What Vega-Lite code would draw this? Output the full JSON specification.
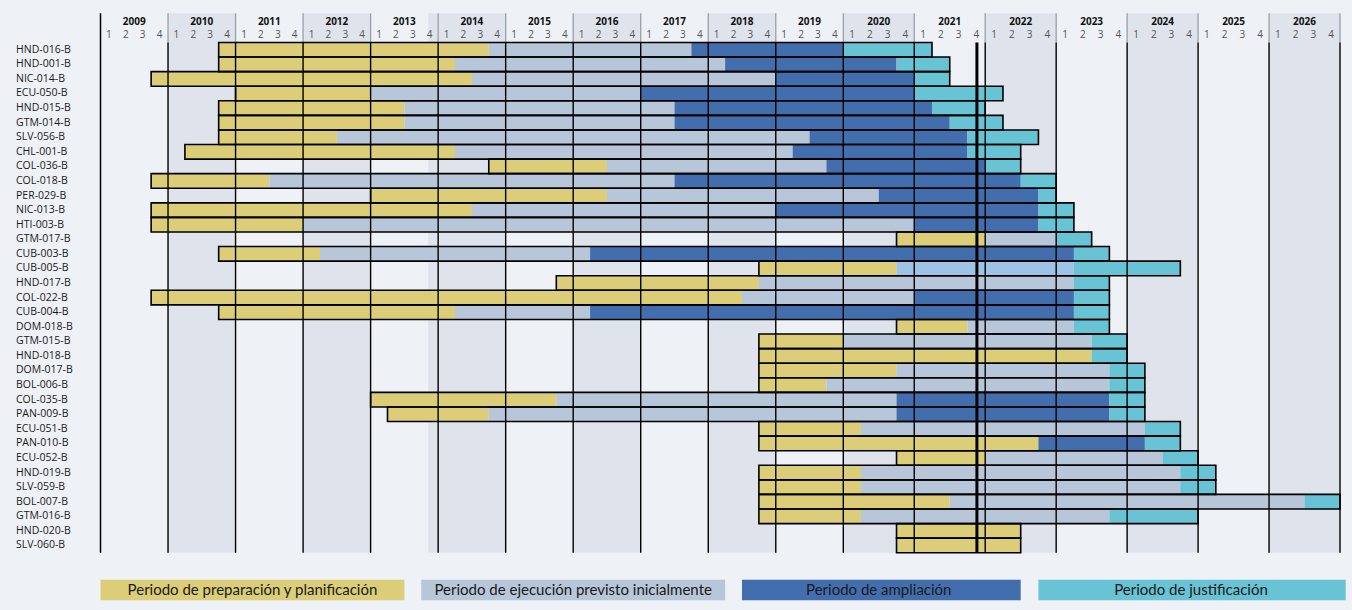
{
  "$schema": "https://vega.github.io/schema/vega-lite/v6.json",
  "width": 1239.5,
  "height": 587.7,
  "padding": {"left": 15.5, "top": 12.3, "right": 12, "bottom": 10},
  "background": "#eef1f5",
  "config": {"view": {"stroke": null}, "font": "Open Sans"},
  "datasets": {
    "seg": [
      {"p": "HND-016-B", "f": "prep", "s": 2010.75, "e": 2014.75},
      {"p": "HND-016-B", "f": "ejec", "s": 2014.75, "e": 2017.75},
      {"p": "HND-016-B", "f": "ampl", "s": 2017.75, "e": 2020},
      {"p": "HND-016-B", "f": "just", "s": 2020, "e": 2021.25},
      {"p": "HND-001-B", "f": "prep", "s": 2010.75, "e": 2014.25},
      {"p": "HND-001-B", "f": "ejec", "s": 2014.25, "e": 2018.25},
      {"p": "HND-001-B", "f": "ampl", "s": 2018.25, "e": 2020.75},
      {"p": "HND-001-B", "f": "just", "s": 2020.75, "e": 2021.5},
      {"p": "NIC-014-B", "f": "prep", "s": 2009.75, "e": 2014.5},
      {"p": "NIC-014-B", "f": "ejec", "s": 2014.5, "e": 2019},
      {"p": "NIC-014-B", "f": "ampl", "s": 2019, "e": 2021},
      {"p": "NIC-014-B", "f": "just", "s": 2021, "e": 2021.5},
      {"p": "ECU-050-B", "f": "prep", "s": 2011, "e": 2013},
      {"p": "ECU-050-B", "f": "ejec", "s": 2013, "e": 2017},
      {"p": "ECU-050-B", "f": "ampl", "s": 2017, "e": 2021},
      {"p": "ECU-050-B", "f": "just", "s": 2021, "e": 2022.25},
      {"p": "HND-015-B", "f": "prep", "s": 2010.75, "e": 2013.5},
      {"p": "HND-015-B", "f": "ejec", "s": 2013.5, "e": 2017.5},
      {"p": "HND-015-B", "f": "ampl", "s": 2017.5, "e": 2021.25},
      {"p": "HND-015-B", "f": "just", "s": 2021.25, "e": 2022},
      {"p": "GTM-014-B", "f": "prep", "s": 2010.75, "e": 2013.5},
      {"p": "GTM-014-B", "f": "ejec", "s": 2013.5, "e": 2017.5},
      {"p": "GTM-014-B", "f": "ampl", "s": 2017.5, "e": 2021.5},
      {"p": "GTM-014-B", "f": "just", "s": 2021.5, "e": 2022.25},
      {"p": "SLV-056-B", "f": "prep", "s": 2010.75, "e": 2012.5},
      {"p": "SLV-056-B", "f": "ejec", "s": 2012.5, "e": 2019.5},
      {"p": "SLV-056-B", "f": "ampl", "s": 2019.5, "e": 2021.75},
      {"p": "SLV-056-B", "f": "just", "s": 2021.75, "e": 2022.75},
      {"p": "CHL-001-B", "f": "prep", "s": 2010.25, "e": 2014.25},
      {"p": "CHL-001-B", "f": "ejec", "s": 2014.25, "e": 2019.25},
      {"p": "CHL-001-B", "f": "ampl", "s": 2019.25, "e": 2021.75},
      {"p": "CHL-001-B", "f": "just", "s": 2021.75, "e": 2022.5},
      {"p": "COL-036-B", "f": "prep", "s": 2014.75, "e": 2016.5},
      {"p": "COL-036-B", "f": "ejec", "s": 2016.5, "e": 2019.75},
      {"p": "COL-036-B", "f": "ampl", "s": 2019.75, "e": 2022},
      {"p": "COL-036-B", "f": "just", "s": 2022, "e": 2022.5},
      {"p": "COL-018-B", "f": "prep", "s": 2009.75, "e": 2011.5},
      {"p": "COL-018-B", "f": "ejec", "s": 2011.5, "e": 2017.5},
      {"p": "COL-018-B", "f": "ampl", "s": 2017.5, "e": 2022.5},
      {"p": "COL-018-B", "f": "just", "s": 2022.5, "e": 2023},
      {"p": "PER-029-B", "f": "prep", "s": 2013, "e": 2016.5},
      {"p": "PER-029-B", "f": "ejec", "s": 2016.5, "e": 2020.5},
      {"p": "PER-029-B", "f": "ampl", "s": 2020.5, "e": 2022.75},
      {"p": "PER-029-B", "f": "just", "s": 2022.75, "e": 2023},
      {"p": "NIC-013-B", "f": "prep", "s": 2009.75, "e": 2014.5},
      {"p": "NIC-013-B", "f": "ejec", "s": 2014.5, "e": 2019},
      {"p": "NIC-013-B", "f": "ampl", "s": 2019, "e": 2022.75},
      {"p": "NIC-013-B", "f": "just", "s": 2022.75, "e": 2023.25},
      {"p": "HTI-003-B", "f": "prep", "s": 2009.75, "e": 2012},
      {"p": "HTI-003-B", "f": "ejec", "s": 2012, "e": 2021},
      {"p": "HTI-003-B", "f": "ampl", "s": 2021, "e": 2022.75},
      {"p": "HTI-003-B", "f": "just", "s": 2022.75, "e": 2023.25},
      {"p": "GTM-017-B", "f": "prep", "s": 2020.75, "e": 2022},
      {"p": "GTM-017-B", "f": "ejec", "s": 2022, "e": 2023},
      {"p": "GTM-017-B", "f": "just", "s": 2023, "e": 2023.5},
      {"p": "CUB-003-B", "f": "prep", "s": 2010.75, "e": 2012.25},
      {"p": "CUB-003-B", "f": "ejec", "s": 2012.25, "e": 2016.25},
      {"p": "CUB-003-B", "f": "ampl", "s": 2016.25, "e": 2023.25},
      {"p": "CUB-003-B", "f": "just", "s": 2023.25, "e": 2023.75},
      {"p": "CUB-005-B", "f": "prep", "s": 2018.75, "e": 2020.75},
      {"p": "CUB-005-B", "f": "otro", "s": 2020.75, "e": 2023.25},
      {"p": "CUB-005-B", "f": "just", "s": 2023.25, "e": 2024.75},
      {"p": "HND-017-B", "f": "prep", "s": 2015.75, "e": 2018.75},
      {"p": "HND-017-B", "f": "ejec", "s": 2018.75, "e": 2023.25},
      {"p": "HND-017-B", "f": "just", "s": 2023.25, "e": 2023.75},
      {"p": "COL-022-B", "f": "prep", "s": 2009.75, "e": 2018.5},
      {"p": "COL-022-B", "f": "ejec", "s": 2018.5, "e": 2021},
      {"p": "COL-022-B", "f": "ampl", "s": 2021, "e": 2023.25},
      {"p": "COL-022-B", "f": "just", "s": 2023.25, "e": 2023.75},
      {"p": "CUB-004-B", "f": "prep", "s": 2010.75, "e": 2014.25},
      {"p": "CUB-004-B", "f": "ejec", "s": 2014.25, "e": 2016.25},
      {"p": "CUB-004-B", "f": "ampl", "s": 2016.25, "e": 2023.25},
      {"p": "CUB-004-B", "f": "just", "s": 2023.25, "e": 2023.75},
      {"p": "DOM-018-B", "f": "prep", "s": 2020.75, "e": 2021.75},
      {"p": "DOM-018-B", "f": "ejec", "s": 2021.75, "e": 2023.25},
      {"p": "DOM-018-B", "f": "just", "s": 2023.25, "e": 2023.75},
      {"p": "GTM-015-B", "f": "prep", "s": 2018.75, "e": 2020},
      {"p": "GTM-015-B", "f": "ejec", "s": 2020, "e": 2023.5},
      {"p": "GTM-015-B", "f": "just", "s": 2023.5, "e": 2024},
      {"p": "HND-018-B", "f": "prep", "s": 2018.75, "e": 2023.5},
      {"p": "HND-018-B", "f": "just", "s": 2023.5, "e": 2024},
      {"p": "DOM-017-B", "f": "prep", "s": 2018.75, "e": 2020.75},
      {"p": "DOM-017-B", "f": "ejec", "s": 2020.75, "e": 2023.75},
      {"p": "DOM-017-B", "f": "just", "s": 2023.75, "e": 2024.25},
      {"p": "BOL-006-B", "f": "prep", "s": 2018.75, "e": 2019.75},
      {"p": "BOL-006-B", "f": "ejec", "s": 2019.75, "e": 2023.75},
      {"p": "BOL-006-B", "f": "just", "s": 2023.75, "e": 2024.25},
      {"p": "COL-035-B", "f": "prep", "s": 2013, "e": 2015.75},
      {"p": "COL-035-B", "f": "ejec", "s": 2015.75, "e": 2020.75},
      {"p": "COL-035-B", "f": "ampl", "s": 2020.75, "e": 2023.75},
      {"p": "COL-035-B", "f": "just", "s": 2023.75, "e": 2024.25},
      {"p": "PAN-009-B", "f": "prep", "s": 2013.25, "e": 2014.75},
      {"p": "PAN-009-B", "f": "ejec", "s": 2014.75, "e": 2020.75},
      {"p": "PAN-009-B", "f": "ampl", "s": 2020.75, "e": 2023.75},
      {"p": "PAN-009-B", "f": "just", "s": 2023.75, "e": 2024.25},
      {"p": "ECU-051-B", "f": "prep", "s": 2018.75, "e": 2020.25},
      {"p": "ECU-051-B", "f": "ejec", "s": 2020.25, "e": 2024.25},
      {"p": "ECU-051-B", "f": "just", "s": 2024.25, "e": 2024.75},
      {"p": "PAN-010-B", "f": "prep", "s": 2018.75, "e": 2022.75},
      {"p": "PAN-010-B", "f": "ampl", "s": 2022.75, "e": 2024.25},
      {"p": "PAN-010-B", "f": "just", "s": 2024.25, "e": 2024.75},
      {"p": "ECU-052-B", "f": "prep", "s": 2020.75, "e": 2022},
      {"p": "ECU-052-B", "f": "ejec", "s": 2022, "e": 2024.5},
      {"p": "ECU-052-B", "f": "just", "s": 2024.5, "e": 2025},
      {"p": "HND-019-B", "f": "prep", "s": 2018.75, "e": 2020.25},
      {"p": "HND-019-B", "f": "ejec", "s": 2020.25, "e": 2024.75},
      {"p": "HND-019-B", "f": "just", "s": 2024.75, "e": 2025.25},
      {"p": "SLV-059-B", "f": "prep", "s": 2018.75, "e": 2020.25},
      {"p": "SLV-059-B", "f": "ejec", "s": 2020.25, "e": 2024.75},
      {"p": "SLV-059-B", "f": "just", "s": 2024.75, "e": 2025.25},
      {"p": "BOL-007-B", "f": "prep", "s": 2018.75, "e": 2021.5},
      {"p": "BOL-007-B", "f": "ejec", "s": 2021.5, "e": 2026.5},
      {"p": "BOL-007-B", "f": "just", "s": 2026.5, "e": 2027},
      {"p": "GTM-016-B", "f": "prep", "s": 2018.75, "e": 2020.25},
      {"p": "GTM-016-B", "f": "ejec", "s": 2020.25, "e": 2023.75},
      {"p": "GTM-016-B", "f": "just", "s": 2023.75, "e": 2025},
      {"p": "HND-020-B", "f": "prep", "s": 2020.75, "e": 2022.5},
      {"p": "SLV-060-B", "f": "prep", "s": 2020.75, "e": 2022.5}
    ],
    "shade": [
      {"a": 2010, "b": 2011}, {"a": 2012, "b": 2013}, {"a": 2013.855, "b": 2014}, {"a": 2014, "b": 2015},
      {"a": 2016, "b": 2017}, {"a": 2018, "b": 2019}, {"a": 2020, "b": 2021},
      {"a": 2022, "b": 2023}, {"a": 2024, "b": 2025}, {"a": 2026, "b": 2027}
    ],
    "bounds": [
      {"x": 2010}, {"x": 2011}, {"x": 2012}, {"x": 2013}, {"x": 2014}, {"x": 2015},
      {"x": 2016}, {"x": 2017}, {"x": 2018}, {"x": 2019}, {"x": 2020}, {"x": 2021},
      {"x": 2022}, {"x": 2023}, {"x": 2024}, {"x": 2025}, {"x": 2026}, {"x": 2027}
    ],
    "years": [
      {"t": "2009", "x": 2009.5}, {"t": "2010", "x": 2010.5}, {"t": "2011", "x": 2011.5},
      {"t": "2012", "x": 2012.5}, {"t": "2013", "x": 2013.5}, {"t": "2014", "x": 2014.5},
      {"t": "2015", "x": 2015.5}, {"t": "2016", "x": 2016.5}, {"t": "2017", "x": 2017.5},
      {"t": "2018", "x": 2018.5}, {"t": "2019", "x": 2019.5}, {"t": "2020", "x": 2020.5},
      {"t": "2021", "x": 2021.5}, {"t": "2022", "x": 2022.5}, {"t": "2023", "x": 2023.5},
      {"t": "2024", "x": 2024.5}, {"t": "2025", "x": 2025.5}, {"t": "2026", "x": 2026.5}
    ],
    "quarters": [
      {"t": "1", "x": 2009.125}, {"t": "2", "x": 2009.375}, {"t": "3", "x": 2009.625}, {"t": "4", "x": 2009.875},
      {"t": "1", "x": 2010.125}, {"t": "2", "x": 2010.375}, {"t": "3", "x": 2010.625}, {"t": "4", "x": 2010.875},
      {"t": "1", "x": 2011.125}, {"t": "2", "x": 2011.375}, {"t": "3", "x": 2011.625}, {"t": "4", "x": 2011.875},
      {"t": "1", "x": 2012.125}, {"t": "2", "x": 2012.375}, {"t": "3", "x": 2012.625}, {"t": "4", "x": 2012.875},
      {"t": "1", "x": 2013.125}, {"t": "2", "x": 2013.375}, {"t": "3", "x": 2013.625}, {"t": "4", "x": 2013.875},
      {"t": "1", "x": 2014.125}, {"t": "2", "x": 2014.375}, {"t": "3", "x": 2014.625}, {"t": "4", "x": 2014.875},
      {"t": "1", "x": 2015.125}, {"t": "2", "x": 2015.375}, {"t": "3", "x": 2015.625}, {"t": "4", "x": 2015.875},
      {"t": "1", "x": 2016.125}, {"t": "2", "x": 2016.375}, {"t": "3", "x": 2016.625}, {"t": "4", "x": 2016.875},
      {"t": "1", "x": 2017.125}, {"t": "2", "x": 2017.375}, {"t": "3", "x": 2017.625}, {"t": "4", "x": 2017.875},
      {"t": "1", "x": 2018.125}, {"t": "2", "x": 2018.375}, {"t": "3", "x": 2018.625}, {"t": "4", "x": 2018.875},
      {"t": "1", "x": 2019.125}, {"t": "2", "x": 2019.375}, {"t": "3", "x": 2019.625}, {"t": "4", "x": 2019.875},
      {"t": "1", "x": 2020.125}, {"t": "2", "x": 2020.375}, {"t": "3", "x": 2020.625}, {"t": "4", "x": 2020.875},
      {"t": "1", "x": 2021.125}, {"t": "2", "x": 2021.375}, {"t": "3", "x": 2021.625}, {"t": "4", "x": 2021.875},
      {"t": "1", "x": 2022.125}, {"t": "2", "x": 2022.375}, {"t": "3", "x": 2022.625}, {"t": "4", "x": 2022.875},
      {"t": "1", "x": 2023.125}, {"t": "2", "x": 2023.375}, {"t": "3", "x": 2023.625}, {"t": "4", "x": 2023.875},
      {"t": "1", "x": 2024.125}, {"t": "2", "x": 2024.375}, {"t": "3", "x": 2024.625}, {"t": "4", "x": 2024.875},
      {"t": "1", "x": 2025.125}, {"t": "2", "x": 2025.375}, {"t": "3", "x": 2025.625}, {"t": "4", "x": 2025.875},
      {"t": "1", "x": 2026.125}, {"t": "2", "x": 2026.375}, {"t": "3", "x": 2026.625}, {"t": "4", "x": 2026.875}
    ],
    "legend": [
      {"t": "Periodo de preparación y planificación", "f": "prep", "a": 2009, "b": 2013.5, "m": 2011.25},
      {"t": "Periodo de ejecución previsto inicialmente", "f": "ejec", "a": 2013.75, "b": 2018.25, "m": 2016},
      {"t": "Periodo de ampliación", "f": "ampl", "a": 2018.5, "b": 2022.5, "m": 2020.5},
      {"t": "Periodo de justificación", "f": "just", "a": 2022.75, "b": 2027.08, "m": 2024.9}
    ]
  },
  "resolve": {"scale": {"y": "independent"}, "axis": {"y": "independent"}},
  "layer": [
    {
      "data": {"name": "shade"},
      "mark": {"type": "rect", "color": "#dfe3eb"},
      "encoding": {
        "x": {"field": "a", "type": "quantitative", "axis": null,
              "scale": {"domain": [2009, 2020, 2027], "range": [0, 742.8, 1239.5], "nice": false, "zero": false}},
        "x2": {"field": "b"},
        "y": {"datum": 0, "type": "quantitative", "axis": null, "scale": {"domain": [0, 40.31], "reverse": true, "nice": false, "zero": false}},
        "y2": {"datum": 37}
      }
    },
    {
      "data": {"name": "bounds"},
      "mark": {"type": "rule", "color": "#9aa0a8", "strokeWidth": 1.3},
      "encoding": {
        "x": {"field": "x", "type": "quantitative", "axis": null},
        "y": {"datum": 0, "type": "quantitative", "axis": null, "scale": {"domain": [0, 40.31], "reverse": true, "nice": false, "zero": false}},
        "y2": {"datum": 2}
      }
    },
    {
      "data": {"name": "seg"},
      "mark": {"type": "rect"},
      "encoding": {
        "x": {"field": "s", "type": "quantitative", "axis": null},
        "x2": {"field": "e"},
        "y": {"field": "p", "type": "nominal", "sort": null,
              "scale": {"domain": ["_a", "_b", "HND-016-B", "HND-001-B", "NIC-014-B", "ECU-050-B", "HND-015-B", "GTM-014-B", "SLV-056-B", "CHL-001-B", "COL-036-B", "COL-018-B", "PER-029-B", "NIC-013-B", "HTI-003-B", "GTM-017-B", "CUB-003-B", "CUB-005-B", "HND-017-B", "COL-022-B", "CUB-004-B", "DOM-018-B", "GTM-015-B", "HND-018-B", "DOM-017-B", "BOL-006-B", "COL-035-B", "PAN-009-B", "ECU-051-B", "PAN-010-B", "ECU-052-B", "HND-019-B", "SLV-059-B", "BOL-007-B", "GTM-016-B", "HND-020-B", "SLV-060-B", "_c", "_d", "_e"],
                        "paddingInner": 0, "paddingOuter": 0.155, "align": 0},
              "axis": {"title": null, "domain": false, "ticks": false, "tickSize": 0, "grid": false,
                       "labelAlign": "left", "labelPadding": 85, "labelFont": "Open Sans", "labelFontSize": 10.5,
                       "labelColor": "#1a1a1a", "labelExpr": "indexof(datum.value, '_') == 0 ? '' : datum.value"}},
        "color": {"field": "f", "type": "nominal", "legend": null,
                  "scale": {"domain": ["prep", "ejec", "ampl", "just", "otro"],
                            "range": ["#dccd78", "#b7c6d8", "#436eae", "#68c3d4", "#9dc3e6"]}}
      }
    },
    {
      "data": {"name": "seg"},
      "transform": [{"aggregate": [{"op": "min", "field": "s", "as": "s0"}, {"op": "max", "field": "e", "as": "e0"}], "groupby": ["p"]}],
      "mark": {"type": "rect", "fillOpacity": 0, "stroke": "#000000", "strokeWidth": 1.6},
      "encoding": {
        "x": {"field": "s0", "type": "quantitative", "axis": null},
        "x2": {"field": "e0"},
        "y": {"field": "p", "type": "nominal", "sort": null, "axis": null,
              "scale": {"domain": ["_a", "_b", "HND-016-B", "HND-001-B", "NIC-014-B", "ECU-050-B", "HND-015-B", "GTM-014-B", "SLV-056-B", "CHL-001-B", "COL-036-B", "COL-018-B", "PER-029-B", "NIC-013-B", "HTI-003-B", "GTM-017-B", "CUB-003-B", "CUB-005-B", "HND-017-B", "COL-022-B", "CUB-004-B", "DOM-018-B", "GTM-015-B", "HND-018-B", "DOM-017-B", "BOL-006-B", "COL-035-B", "PAN-009-B", "ECU-051-B", "PAN-010-B", "ECU-052-B", "HND-019-B", "SLV-059-B", "BOL-007-B", "GTM-016-B", "HND-020-B", "SLV-060-B", "_c", "_d", "_e"],
                        "paddingInner": 0, "paddingOuter": 0.155, "align": 0}}
      }
    },
    {
      "data": {"name": "bounds"},
      "mark": {"type": "rule", "color": "#000000", "strokeWidth": 1.4},
      "encoding": {
        "x": {"field": "x", "type": "quantitative", "axis": null},
        "y": {"datum": 2, "type": "quantitative", "axis": null, "scale": {"domain": [0, 40.31], "reverse": true, "nice": false, "zero": false}},
        "y2": {"datum": 37}
      }
    },
    {
      "data": {"values": [{"x": 2009}]},
      "mark": {"type": "rule", "color": "#000000", "strokeWidth": 1.5},
      "encoding": {
        "x": {"field": "x", "type": "quantitative", "axis": null},
        "y": {"datum": 0, "type": "quantitative", "axis": null, "scale": {"domain": [0, 40.31], "reverse": true, "nice": false, "zero": false}},
        "y2": {"datum": 37}
      }
    },
    {
      "data": {"values": [{"x": 2021.883}]},
      "mark": {"type": "rule", "color": "#000000", "strokeWidth": 3},
      "encoding": {
        "x": {"field": "x", "type": "quantitative", "axis": null},
        "y": {"datum": 2, "type": "quantitative", "axis": null, "scale": {"domain": [0, 40.31], "reverse": true, "nice": false, "zero": false}},
        "y2": {"datum": 37}
      }
    },
    {
      "data": {"name": "years"},
      "mark": {"type": "text", "font": "Open Sans", "fontSize": 10, "fontWeight": "bold", "color": "#111111", "baseline": "middle"},
      "encoding": {
        "x": {"field": "x", "type": "quantitative", "axis": null},
        "y": {"datum": 0.57, "type": "quantitative", "axis": null, "scale": {"domain": [0, 40.31], "reverse": true, "nice": false, "zero": false}},
        "text": {"field": "t"}
      }
    },
    {
      "data": {"name": "quarters"},
      "mark": {"type": "text", "font": "Open Sans", "fontSize": 10, "color": "#555555", "baseline": "middle"},
      "encoding": {
        "x": {"field": "x", "type": "quantitative", "axis": null},
        "y": {"datum": 1.51, "type": "quantitative", "axis": null, "scale": {"domain": [0, 40.31], "reverse": true, "nice": false, "zero": false}},
        "text": {"field": "t"}
      }
    },
    {
      "data": {"name": "legend"},
      "mark": {"type": "rect"},
      "encoding": {
        "x": {"field": "a", "type": "quantitative", "axis": null},
        "x2": {"field": "b"},
        "y": {"datum": 38.85, "type": "quantitative", "axis": null, "scale": {"domain": [0, 40.31], "reverse": true, "nice": false, "zero": false}},
        "y2": {"datum": 40.25},
        "color": {"field": "f", "type": "nominal", "legend": null}
      }
    },
    {
      "data": {"name": "legend"},
      "mark": {"type": "text", "font": "Lato", "fontSize": 15, "color": "#1a1a1a", "baseline": "middle"},
      "encoding": {
        "x": {"field": "m", "type": "quantitative", "axis": null},
        "y": {"datum": 39.55, "type": "quantitative", "axis": null, "scale": {"domain": [0, 40.31], "reverse": true, "nice": false, "zero": false}},
        "text": {"field": "t"}
      }
    }
  ]
}
